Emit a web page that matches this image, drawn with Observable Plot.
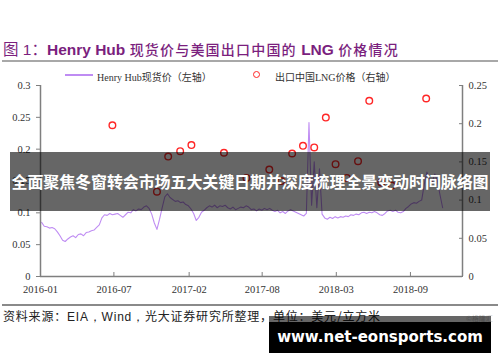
<!DOCTYPE html>
<html><head><meta charset="utf-8">
<script src="https://cdn.jsdelivr.net/npm/d3@7"></script>
<script src="https://cdn.jsdelivr.net/npm/@observablehq/plot@0.6"></script>
<style>
body{margin:0;background:#fff;}
#wrap{position:relative;width:500px;height:362px;overflow:hidden;background:#fff;font-family:"Liberation Serif","Noto Sans CJK SC",serif;}
.abs{position:absolute;}
#title{left:3px;top:37px;font-size:15.5px;color:#7b1f7e;white-space:nowrap;font-family:"Liberation Sans","Noto Sans CJK SC",sans-serif;}
#title b{font-weight:bold;}
#title .cn{font-family:"Noto Sans CJK SC",sans-serif;font-weight:500;font-size:14px;letter-spacing:1.2px;}
.legtext{font-size:10px;color:#333;white-space:nowrap;top:69px;}
#source{left:3px;top:307px;font-size:12px;color:#222;white-space:nowrap;font-family:"Noto Sans CJK SC",sans-serif;letter-spacing:0.8px;}
#source .en{font-family:"Liberation Sans",sans-serif;}
#band{left:10px;top:152px;width:480px;height:59px;background:rgba(0,0,0,0.6);color:#fff;font-family:"Noto Sans CJK SC",sans-serif;font-weight:bold;font-size:16px;line-height:59px;text-align:center;white-space:nowrap;letter-spacing:-0.1px;}
#wm{left:269px;top:316px;width:222px;height:37px;}
#wm .top{position:absolute;left:0;top:0;width:222px;height:6px;background:rgba(0,0,0,0.6);}
#wm .main{position:absolute;left:0;top:6px;width:222px;height:31px;background:#000;color:#fff;font-family:"DejaVu Sans",sans-serif;font-weight:bold;font-size:15px;line-height:31px;text-align:center;}
#gl{left:466px;top:313px;font-size:7px;color:#c8c8c8;font-family:"Noto Sans CJK SC",sans-serif;}
</style></head><body>
<div id="wrap">
  <div id="title" class="abs">图 1：<b>Henry Hub</b> <span class="cn">现货价与美国出口中国的</span> <b>LNG</b> <span class="cn">价格情况</span></div>
  <div class="abs" style="left:2px;top:60px;width:496px;height:2px;background:#a8a8a8"></div>
  <div id="chart" class="abs" style="left:0;top:62px"></div>
  <div id="leg1" class="abs" style="left:65px;top:74px;width:28px;height:1.5px"></div>
  <div id="legt1" class="abs legtext" style="left:97px"></div>
  <div id="leg2" class="abs" style="left:253px;top:71px;width:5px;height:5px;border-radius:50%;border:1.5px solid"></div>
  <div id="legt2" class="abs legtext" style="left:275px"></div>
  <div class="abs" style="left:2px;top:304px;width:496px;height:1.5px;background:#8a8a8a"></div>
  <div id="source" class="abs">资料来源：<span class="en">EIA，Wind，</span>光大证券研究所整理，单位：美元/立方米</div>
  <div id="gl" class="abs">©格隆汇</div>
  <div id="band" class="abs">全面聚焦冬窗转会市场五大关键日期并深度梳理全景变动时间脉络图</div>
  <div id="wm" class="abs"><div class="top"></div><div class="main">www.net-eonsports.com</div></div>
</div>
<script>
// ---- data ----
const seriesNames = ["Henry Hub现货价（左轴）", "出口中国LNG价格（右轴）"];
const seriesColors = ["#bf8cf3", "#ff2626"];

// Henry Hub spot price, weekly readings starting 2016-01-04 (USD / m3)
const hhStart = "2016-01-04";
const hhValues = [
  0.085,0.079,0.078,0.076,0.077,0.075,0.070,0.064,0.057,0.055,
  0.059,0.062,0.064,0.061,0.066,0.067,0.064,0.069,0.070,0.072,
  0.073,0.077,0.081,0.092,0.097,0.096,0.099,0.097,0.098,0.099,
  0.096,0.093,0.097,0.101,0.100,0.105,0.103,0.106,0.105,0.109,
  0.111,0.107,0.098,0.084,0.074,0.090,0.108,0.125,0.130,0.124,
  0.121,0.118,0.119,0.116,0.117,0.113,0.111,0.106,0.099,0.088,
  0.093,0.101,0.104,0.108,0.111,0.109,0.112,0.108,0.111,0.110,
  0.112,0.108,0.106,0.109,0.105,0.107,0.109,0.108,0.111,0.109,
  0.105,0.106,0.103,0.106,0.104,0.107,0.105,0.107,0.104,0.102,
  0.104,0.100,0.102,0.099,0.103,0.105,0.103,0.101,0.099,0.097,
  0.095,0.099,0.242,0.112,0.180,0.108,0.169,0.098,0.092,0.090,
  0.093,0.091,0.094,0.092,0.094,0.093,0.095,0.094,0.097,0.096,
  0.098,0.097,0.100,0.101,0.099,0.101,0.100,0.102,0.100,0.097,
  0.096,0.099,0.103,0.104,0.102,0.104,0.101,0.100,0.102,0.107,
  0.110,0.114,0.116,0.115,0.118,0.120,0.145,0.164,0.152,0.148,
  0.161,0.150,0.128,0.108
];

// LNG export price to China (USD / m3, right axis)
const lngDates = [
  "2016-07-11","2016-11-07","2016-12-07","2017-01-08","2017-02-07",
  "2017-05-05","2017-07-04","2017-09-03","2017-10-05","2017-11-03",
  "2017-12-02","2018-01-01","2018-02-01","2018-02-27","2018-03-29",
  "2018-04-28","2018-05-28","2018-06-29","2018-07-27","2018-10-27"
];
const lngValues = [
  0.198,0.111,0.157,0.164,0.172,
  0.162,0.129,0.140,0.125,0.161,
  0.171,0.169,0.208,0.147,0.129,
  0.151,0.230,0.123,0.119,0.233
];

const xDomain = ["2016-01-01", "2019-02-01"];
const xTickDates = ["2016-01-01","2016-07-15","2017-02-01","2017-08-15","2018-03-01","2018-09-15"];
const xTickLabels = ["2016-01","2016-07","2017-02","2017-08","2018-03","2018-09"];
const leftTicks = [0, 0.05, 0.1, 0.15, 0.2, 0.25, 0.3];
const rightTicks = [0, 0.05, 0.1, 0.15, 0.2, 0.25];
const leftMax = 0.3, rightMax = 0.25;

// ---- build ----
const ratio = leftMax / rightMax;
const hh = hhValues.map((v, i) => ({date: d3.utcDay.offset(new Date(hhStart), 7 * i), value: v}));
const lng = lngDates.map((d, i) => ({date: new Date(d), value: lngValues[i] * ratio}));
const tickDates = xTickDates.map(d => new Date(d));
const labelOf = new Map(tickDates.map((d, i) => [+d, xTickLabels[i]]));
const fmt = v => String(+v.toFixed(3));
const axisGrey = "#7f7f7f";

const chart = Plot.plot({
  width: 500, height: 240,
  marginLeft: 40, marginRight: 38, marginTop: 23, marginBottom: 26,
  style: {fontFamily: "Liberation Serif, serif", fontSize: "10.5px", color: "#333", background: "transparent", overflow: "visible"},
  x: {type: "utc", domain: xDomain.map(d => new Date(d))},
  y: {domain: [0, leftMax]},
  marks: [
    Plot.line(hh, {x: "date", y: "value", stroke: seriesColors[0], strokeWidth: 1.1}),
    Plot.dot(lng, {x: "date", y: "value", r: 3.3, stroke: seriesColors[1], strokeWidth: 1.4, fill: "none"}),
    // axis lines
    Plot.ruleX([new Date(xDomain[0])], {stroke: axisGrey, strokeWidth: 1.5}),
    Plot.ruleX([new Date(xDomain[1])], {stroke: axisGrey, strokeWidth: 1.5}),
    Plot.ruleY([0], {stroke: axisGrey, strokeWidth: 1.5}),
    // left axis
    Plot.axisY(leftTicks, {anchor: "left", tickSize: 4, tickPadding: 6, stroke: axisGrey, fill: "#333", tickFormat: fmt, label: null}),
    // right axis: inward ticks + labels
    Plot.axisY(rightTicks.map(v => v * ratio), {anchor: "right", tickSize: 4, dx: -4, stroke: axisGrey, tickFormat: () => "", label: null}),
    Plot.axisY(rightTicks.map(v => v * ratio), {anchor: "right", tickSize: 0, tickPadding: 6, fill: "#333", tickFormat: v => fmt(v / ratio), label: null}),
    // bottom axis: inward ticks + labels
    Plot.axisX(tickDates, {anchor: "bottom", tickSize: 4, dy: -4, stroke: axisGrey, tickFormat: () => "", label: null}),
    Plot.axisX(tickDates, {anchor: "bottom", tickSize: 0, tickPadding: 9, fill: "#333", tickFormat: d => labelOf.get(+d), label: null})
  ]
});
document.getElementById("chart").appendChild(chart);

document.getElementById("leg1").style.background = seriesColors[0];
document.getElementById("legt1").textContent = seriesNames[0];
document.getElementById("leg2").style.borderColor = seriesColors[1];
document.getElementById("legt2").textContent = seriesNames[1];
</script>
</body></html>
